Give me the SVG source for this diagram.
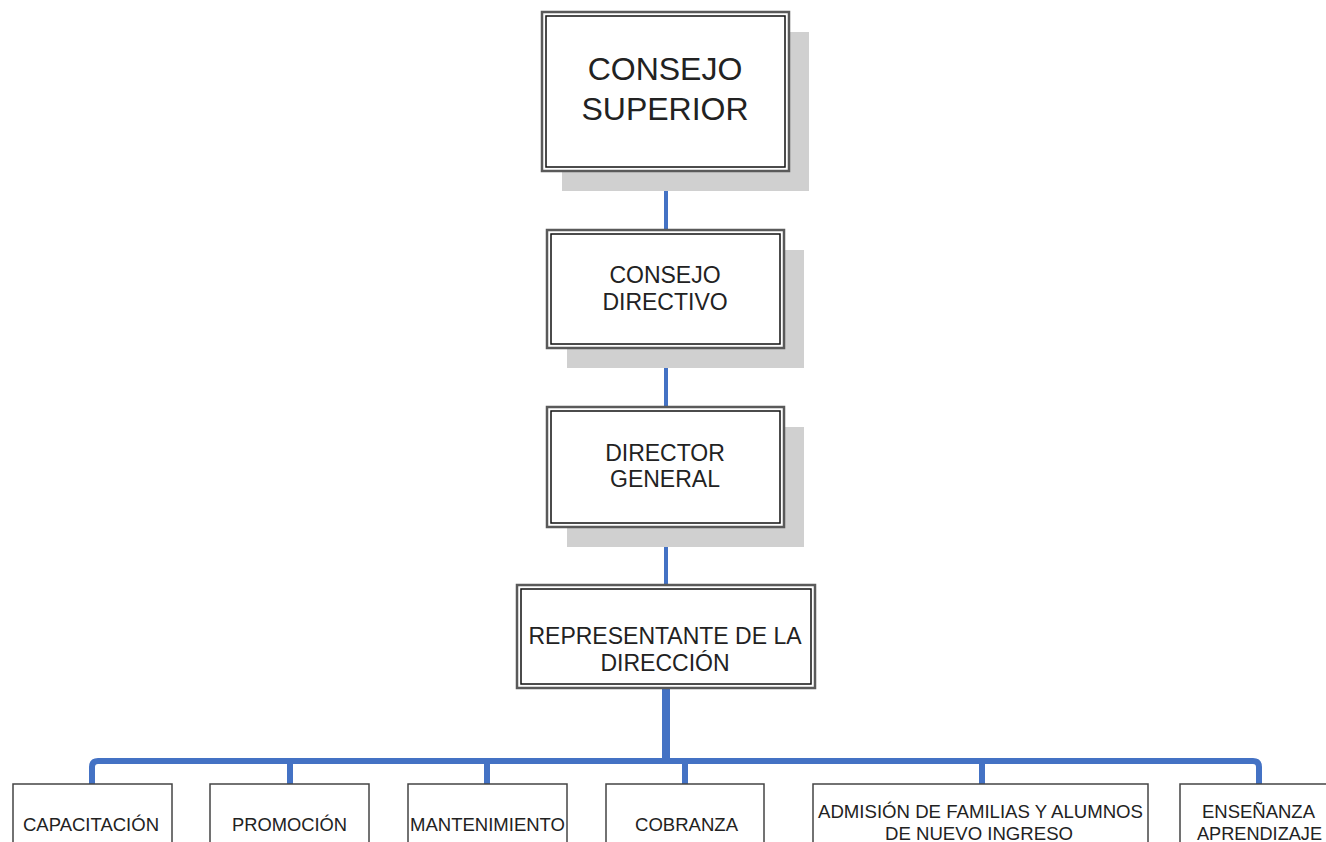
<svg xmlns="http://www.w3.org/2000/svg" width="1326" height="842" viewBox="0 0 1326 842">
<style>
.bg{fill:#ffffff}
.shadow{fill:#d0d0d0}
.outer{fill:#ffffff;stroke:#5a5a5a;stroke-width:2.5}
.inner{fill:none;stroke:#111111;stroke-width:1.5}
.leaf{fill:#ffffff;stroke:#444444;stroke-width:1.5}
.t{font-family:"Liberation Sans",Arial,sans-serif;fill:#222222;text-anchor:middle}
.big{font-size:32px}
.mid{font-size:23px}
.small{font-size:19px}
.conn{fill:none;stroke:#4472C4;stroke-linejoin:round;stroke-linecap:butt}
</style>
<rect class="bg" x="0" y="0" width="1326" height="842"/>
<g id="connectors">
<line class="conn" x1="666" y1="171" x2="666" y2="230" stroke-width="4"/>
<line class="conn" x1="666" y1="348" x2="666" y2="407" stroke-width="4"/>
<line class="conn" x1="666" y1="527" x2="666" y2="585" stroke-width="4"/>
<line class="conn" x1="666" y1="688" x2="666" y2="761" stroke-width="8"/>
<path class="conn" d="M92 784 V767 Q92 761 98 761 H1253 Q1259 761 1259 767 V784" stroke-width="6"/>
<line class="conn" x1="290" y1="761" x2="290" y2="784" stroke-width="6"/>
<line class="conn" x1="487" y1="761" x2="487" y2="784" stroke-width="6"/>
<line class="conn" x1="685" y1="761" x2="685" y2="784" stroke-width="6"/>
<line class="conn" x1="982" y1="761" x2="982" y2="784" stroke-width="6"/>
</g>
<g id="consejo-superior">
<rect class="shadow" x="562" y="32" width="247" height="159"/>
<rect class="outer" x="542" y="12" width="247" height="159"/>
<rect class="inner" x="546" y="16" width="239" height="151"/>
<text class="t big" x="665" y="80">CONSEJO</text>
<text class="t big" x="665" y="120">SUPERIOR</text>
</g>
<g id="consejo-directivo">
<rect class="shadow" x="567" y="250" width="237" height="118"/>
<rect class="outer" x="547" y="230" width="237" height="118"/>
<rect class="inner" x="551" y="234" width="229" height="110"/>
<text class="t mid" x="665" y="283">CONSEJO</text>
<text class="t mid" x="665" y="310">DIRECTIVO</text>
</g>
<g id="director-general">
<rect class="shadow" x="567" y="427" width="237" height="120"/>
<rect class="outer" x="547" y="407" width="237" height="120"/>
<rect class="inner" x="551" y="411" width="229" height="112"/>
<text class="t mid" x="665" y="461">DIRECTOR</text>
<text class="t mid" x="665" y="487">GENERAL</text>
</g>
<g id="representante">
<rect class="outer" x="517" y="585" width="298" height="103"/>
<rect class="inner" x="521" y="589" width="290" height="95"/>
<text class="t mid" x="665" y="644">REPRESENTANTE DE LA</text>
<text class="t mid" x="665" y="671">DIRECCIÓN</text>
</g>
<g id="capacitacion">
<rect class="leaf" x="13" y="784" width="159" height="80"/>
<text class="t small" x="91" y="831" textLength="136" lengthAdjust="spacingAndGlyphs">CAPACITACIÓN</text>
</g>
<g id="promocion">
<rect class="leaf" x="210" y="784" width="159" height="80"/>
<text class="t small" x="289.5" y="831" textLength="115" lengthAdjust="spacingAndGlyphs">PROMOCIÓN</text>
</g>
<g id="mantenimiento">
<rect class="leaf" x="408" y="784" width="159" height="80"/>
<text class="t small" x="487.5" y="831" textLength="155" lengthAdjust="spacingAndGlyphs">MANTENIMIENTO</text>
</g>
<g id="cobranza">
<rect class="leaf" x="606" y="784" width="158" height="80"/>
<text class="t small" x="686.5" y="831" textLength="103" lengthAdjust="spacingAndGlyphs">COBRANZA</text>
</g>
<g id="admision">
<rect class="leaf" x="813" y="784" width="335" height="80"/>
<text class="t small" x="980.5" y="818" textLength="325" lengthAdjust="spacingAndGlyphs">ADMISIÓN DE FAMILIAS Y ALUMNOS</text>
<text class="t small" x="979" y="840" textLength="188" lengthAdjust="spacingAndGlyphs">DE NUEVO INGRESO</text>
</g>
<g id="ensenanza">
<rect class="leaf" x="1180" y="784" width="170" height="80"/>
<text class="t small" x="1258.5" y="818" textLength="113" lengthAdjust="spacingAndGlyphs">ENSEÑANZA</text>
<text class="t small" x="1259.5" y="840" textLength="125" lengthAdjust="spacingAndGlyphs">APRENDIZAJE</text>
</g>
</svg>
